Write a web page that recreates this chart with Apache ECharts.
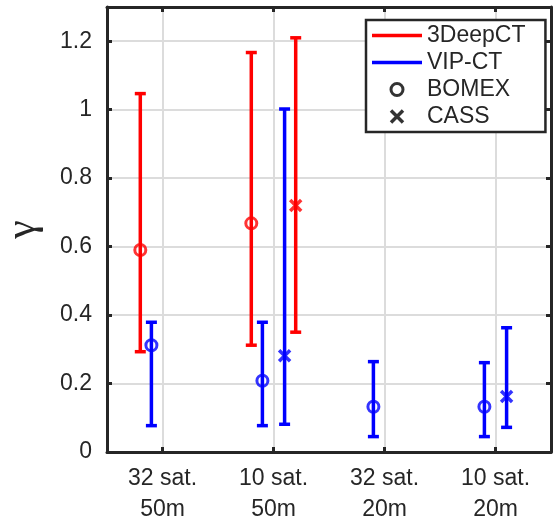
<!DOCTYPE html>
<html>
<head>
<meta charset="utf-8">
<script src="https://cdn.jsdelivr.net/npm/echarts@6/dist/echarts.min.js"></script>
<style>
  html, body { margin: 0; padding: 0; background: #fff; }
  #chart { width: 554px; height: 522px; }
</style>
</head>
<body>
<div id="chart"></div>
<script>
const CATEGORIES = ['32 sat.\n50m', '10 sat.\n50m', '32 sat.\n20m', '10 sat.\n20m'];
const Y_TICKS = [0, 0.2, 0.4, 0.6, 0.8, 1, 1.2];

// 3DeepCT
const DEEP_BOMEX_MEAN = [0.59, 0.668, null, null];
const DEEP_BOMEX_LOW = [0.293, 0.312, null, null];
const DEEP_BOMEX_HIGH = [1.047, 1.167, null, null];
const DEEP_CASS_MEAN = [null, 0.72, null, null];
const DEEP_CASS_LOW = [null, 0.35, null, null];
const DEEP_CASS_HIGH = [null, 1.21, null, null];

// VIP-CT
const VIP_BOMEX_MEAN = [0.312, 0.208, 0.132, 0.132];
const VIP_BOMEX_LOW = [0.077, 0.077, 0.045, 0.045];
const VIP_BOMEX_HIGH = [0.379, 0.379, 0.264, 0.261];
const VIP_CASS_MEAN = [null, 0.281, null, 0.162];
const VIP_CASS_LOW = [null, 0.081, null, 0.072];
const VIP_CASS_HIGH = [null, 1.002, null, 0.363];

const RED = '#ff0000';
const BLUE = '#0000ff';
const INK = '#262626';
const GRIDC = '#dcdcdc';
const FONT = 'Liberation Sans';
// horizontal dodge of each group inside a category
const SHIFT = { deepBomex: -0.2, vipBomex: -0.1, vipCass: 0.1, deepCass: 0.2 };
const CROSS = 'path://M0,0L10,10M10,0L0,10';

function pts(mean, low, high, shift, color) {
  let out = [];
  for (let i = 0; i < CATEGORIES.length; i++) {
    if (mean[i] == null) continue;
    out.push({ x: i + 1 + shift, m: mean[i], lo: low[i], hi: high[i], color: color });
  }
  return out;
}

const deepBomex = pts(DEEP_BOMEX_MEAN, DEEP_BOMEX_LOW, DEEP_BOMEX_HIGH, SHIFT.deepBomex, RED);
const deepCass = pts(DEEP_CASS_MEAN, DEEP_CASS_LOW, DEEP_CASS_HIGH, SHIFT.deepCass, RED);
const vipBomex = pts(VIP_BOMEX_MEAN, VIP_BOMEX_LOW, VIP_BOMEX_HIGH, SHIFT.vipBomex, BLUE);
const vipCass = pts(VIP_CASS_MEAN, VIP_CASS_LOW, VIP_CASS_HIGH, SHIFT.vipCass, BLUE);

function errorItem(color) {
  return function (params, api) {
    const x = api.value(0);
    const top = api.coord([x, api.value(2)]);
    const bot = api.coord([x, api.value(1)]);
    const cap = 5.5;
    const st = { stroke: color, lineWidth: 3.5 };
    return {
      type: 'group',
      children: [
        { type: 'line', shape: { x1: top[0], y1: top[1], x2: bot[0], y2: bot[1] }, style: st },
        { type: 'line', shape: { x1: top[0] - cap, y1: top[1], x2: top[0] + cap, y2: top[1] }, style: st },
        { type: 'line', shape: { x1: bot[0] - cap, y1: bot[1], x2: bot[0] + cap, y2: bot[1] }, style: st }
      ]
    };
  };
}

function markers(list) {
  return list.map(p => ({
    value: [p.x, p.m],
    itemStyle: { color: 'rgba(0,0,0,0)', borderColor: p.color }
  }));
}

const xTicks = CATEGORIES.map((c, i) => i + 1);
const frame = { color: INK, width: 3 };

const chart = echarts.init(document.getElementById('chart'), null, { renderer: 'canvas' });
chart.setOption({
  animation: false,
  backgroundColor: '#fff',
  grid: { left: 107, right: 3, top: 7, bottom: 70, outerBoundsMode: 'none' },
  legend: {
    left: 366, top: 20,
    orient: 'vertical',
    selectedMode: false,
    backgroundColor: '#fff',
    borderColor: INK, borderWidth: 2.5,
    padding: [4, 20, 4, 6],
    itemWidth: 50, itemHeight: 12, itemGap: 4,
    textStyle: { fontFamily: FONT, fontSize: 23, color: INK, lineHeight: 23 },
    data: [
      { name: '3DeepCT', icon: 'path://M0,0H50V3.5H0Z', itemStyle: { color: RED, borderWidth: 0 } },
      { name: 'VIP-CT', icon: 'path://M0,0H50V3.5H0Z', itemStyle: { color: BLUE, borderWidth: 0 } },
      { name: 'BOMEX', icon: 'circle', itemStyle: { color: '#fff', borderColor: '#000', borderWidth: 3 } },
      { name: 'CASS', icon: CROSS, itemStyle: { color: 'rgba(0,0,0,0)', borderColor: '#000', borderWidth: 3.5 } }
    ]
  },
  xAxis: [{
    type: 'value', min: 0.5, max: 4.5,
    axisLine: { onZero: false, lineStyle: frame },
    axisTick: { inside: true, length: 5, customValues: xTicks, lineStyle: frame },
    axisLabel: {
      customValues: xTicks, margin: 11,
      fontFamily: FONT, fontSize: 23, color: INK, lineHeight: 31,
      formatter: v => CATEGORIES[Math.round(v) - 1] || ''
    },
    splitLine: { show: true, lineStyle: { color: GRIDC, width: 2 } }
  }, {
    type: 'value', min: 0.5, max: 4.5, position: 'top',
    axisLine: { onZero: false, lineStyle: frame },
    axisTick: { inside: true, length: 5, customValues: xTicks, lineStyle: frame },
    axisLabel: { show: false },
    splitLine: { show: false }
  }],
  yAxis: [{
    type: 'value', min: 0, max: 1.3,
    name: 'γ', nameLocation: 'middle', nameGap: 63, nameRotate: 90,
    nameTextStyle: { fontFamily: 'Liberation Serif', fontSize: 42, color: INK },
    axisLine: { show: true, onZero: false, lineStyle: frame },
    axisTick: { inside: true, length: 5, customValues: Y_TICKS, lineStyle: frame },
    axisLabel: { customValues: Y_TICKS, margin: 15, fontFamily: FONT, fontSize: 23, color: INK },
    splitLine: { show: true, lineStyle: { color: GRIDC, width: 2 } }
  }, {
    type: 'value', min: 0, max: 1.3, position: 'right',
    axisLine: { show: true, onZero: false, lineStyle: frame },
    axisTick: { inside: true, length: 5, customValues: Y_TICKS, lineStyle: frame },
    axisLabel: { show: false },
    splitLine: { show: false }
  }],
  series: [{
    name: '3DeepCT', type: 'custom', renderItem: errorItem(RED),
    encode: { x: 0, y: [1, 2] },
    data: deepBomex.concat(deepCass).map(p => [p.x, p.lo, p.hi]),
    z: 2
  }, {
    name: 'VIP-CT', type: 'custom', renderItem: errorItem(BLUE),
    encode: { x: 0, y: [1, 2] },
    data: vipBomex.concat(vipCass).map(p => [p.x, p.lo, p.hi]),
    z: 2
  }, {
    name: 'BOMEX', type: 'scatter', symbol: 'circle', symbolSize: 11,
    itemStyle: { borderWidth: 3 },
    data: markers(deepBomex.concat(vipBomex)),
    z: 3
  }, {
    name: 'CASS', type: 'scatter', symbol: CROSS, symbolSize: 11,
    itemStyle: { borderWidth: 3.5 },
    data: markers(deepCass.concat(vipCass)),
    z: 3
  }]
});
</script>
</body>
</html>
